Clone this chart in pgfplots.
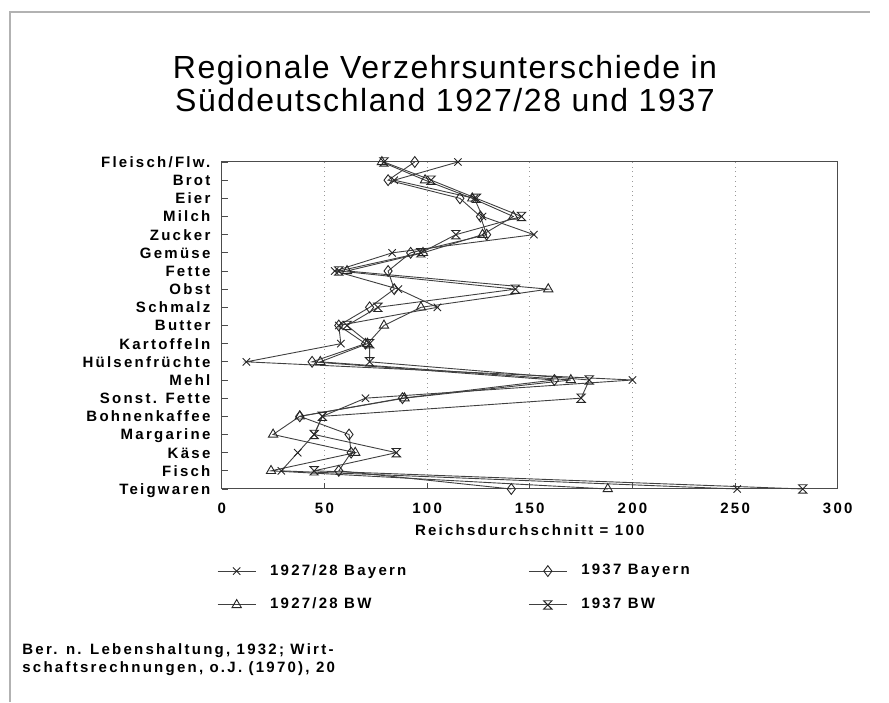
\documentclass[border=0pt]{standalone}
\usepackage{fontspec}
\setmainfont{Liberation Sans}
\newfontfamily\labfont[LetterSpace=15]{Liberation Sans}
\newfontfamily\titfont[LetterSpace=5]{Liberation Sans}
\usepackage{pgfplots}
\pgfplotsset{compat=1.18}
\usepackage{pgfplotstable}

\newcommand{\lab}{\labfont\bfseries\fontsize{7.5}{9}\selectfont}

% hourglass mark for 1937 BW
\pgfdeclareplotmark{hourglass}{%
  \pgfpathmoveto{\pgfqpoint{-\pgfplotmarksize}{\pgfplotmarksize}}%
  \pgfpathlineto{\pgfqpoint{\pgfplotmarksize}{\pgfplotmarksize}}%
  \pgfpathlineto{\pgfqpoint{-\pgfplotmarksize}{-\pgfplotmarksize}}%
  \pgfpathlineto{\pgfqpoint{\pgfplotmarksize}{-\pgfplotmarksize}}%
  \pgfpathclose
  \pgfusepathqstroke}

% idx: 18 = Fleisch/Flw. (top) ... 0 = Teigwaren (bottom)
% A = 1927/28 Bayern, B = 1937 Bayern, C = 1927/28 BW, D = 1937 BW
\pgfplotstableread{
idx A   B   C   D
18  115 94  78  79
17  84  81  99  102
16  123 116 122 124
15  127 126 142 146
14  152 129 127 114
13  83  92  98  97
12  55  81  61  57
11  86  84  159 143
10  105 72  97  76
9   57  57  79  61
8   58  70  71  72
7   12  44  48  72
6   200 162 170 179
5   70  88  89  175
4   49  38  38  49
3   45  62  25  45
2   37  63  65  85
1   29  57  24  45
0   251 141 188 283
}\verzehr

\begin{document}
\begin{tikzpicture}[x=1pt,y=1pt]
\useasboundingbox (0,0) rectangle (444.5,351);
\draw[black!30, line width=0.6pt] (5,0) -- (5,345) -- (435,345);

\node[anchor=base, inner sep=0pt, font=\titfont\fontsize{16}{19}\selectfont] at (222.5,311.5) {Regionale Verzehrsunterschiede in};
\node[anchor=base, inner sep=0pt, font=\titfont\fontsize{16}{19}\selectfont] at (222.5,295) {Süddeutschland 1927/28 und 1937};

\begin{axis}[
  at={(108,117.25)}, anchor=south west,
  scale only axis, width=308pt, height=163.5pt,
  xmin=0, xmax=300, ymin=0, ymax=18,
  xtick={0,50,...,300}, ytick={0,...,18},
  yticklabels={Teigwaren, Fisch, Käse, Margarine, Bohnenkaffee, Sonst. Fette, Mehl, Hülsenfrüchte, Kartoffeln, Butter, Schmalz, Obst, Fette, Gemüse, Zucker, Milch, Eier, Brot, Fleisch/Flw.},
  tick align=inside, xtick pos=lower, ytick pos=left, major tick length=3pt,
  tick style={black!70, line width=0.4pt},
  xmajorgrids, grid style={black!40, dotted, line width=0.4pt},
  axis line style={black!70, line width=0.5pt},
  ticklabel style={font=\lab},
  /pgf/number format/assume math mode=true,
  xticklabel style={anchor=base, yshift=-12.5pt},
  yticklabel style={anchor=base east, inner sep=0pt, xshift=-5.5pt, yshift=-2.7pt},
  xlabel={Reichsdurchschnitt = 100},
  xlabel style={font=\lab, at={(axis description cs:0.5,0)}, anchor=base, yshift=-23.5pt},
  clip=false,
  every axis plot/.append style={black!75, line width=0.45pt, mark options={solid, black!85, line width=0.45pt}},
  legend columns=2,
  legend cell align=left,
  legend image code/.code={\draw[mark repeat=2,mark phase=2,#1] plot coordinates {(0pt,0pt) (9.5pt,0pt) (19pt,0pt)};},
  legend style={draw=none, fill=none, font=\lab, inner sep=0pt,
    at={(axis description cs:-0.008,-0.3028)}, anchor=west,
    row sep=6pt,
    /tikz/every odd column/.append style={column sep=5pt},
    /tikz/every even column/.append style={column sep=59pt}},
]
\addplot[mark=x, mark size=2.6pt] table[x=A,y=idx]{\verzehr};
\addplot[mark=diamond, mark size=2.7pt] table[x=B,y=idx]{\verzehr};
\addplot[mark=triangle, mark size=2.7pt] table[x=C,y=idx]{\verzehr};
\addplot[mark=hourglass, mark size=2.1pt] table[x=D,y=idx]{\verzehr};
\legend{1927/28 Bayern, 1937 Bayern, 1927/28 BW, 1937 BW}
\end{axis}

\node[anchor=base west, inner sep=0pt, font=\lab] at (11,24) {Ber. n. Lebenshaltung, 1932; Wirt-};
\node[anchor=base west, inner sep=0pt, font=\lab] at (11,15) {schaftsrechnungen, o.J. (1970), 20};
\end{tikzpicture}
\end{document}
